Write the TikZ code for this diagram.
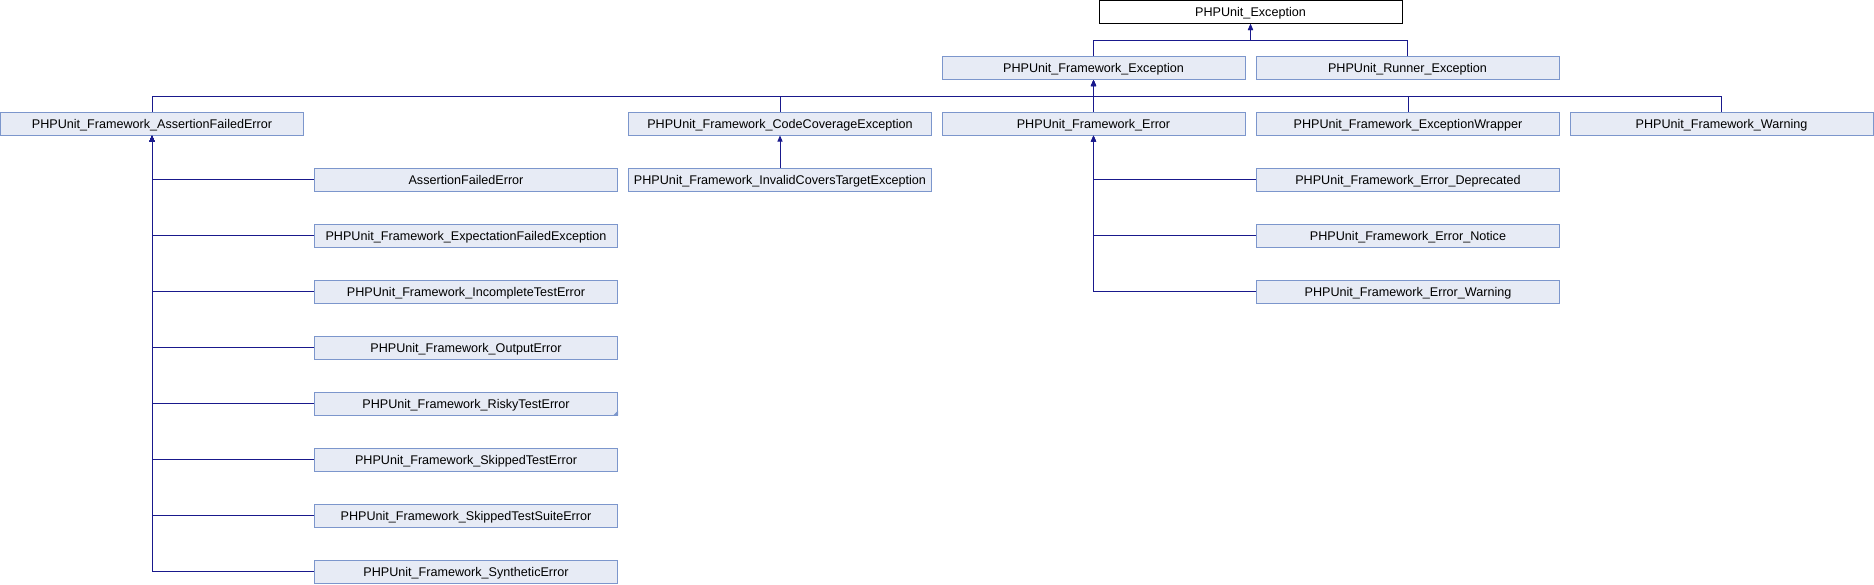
\documentclass[tikz,border=0pt]{standalone}
\usepackage{fontspec}
\setmainfont{Liberation Sans}
\usetikzlibrary{arrows.meta}
\definecolor{edgec}{RGB}{25,25,140}
\definecolor{boxfill}{RGB}{231,235,245}
\definecolor{boxdraw}{RGB}{124,150,204}
\tikzset{
  cls/.style={draw=boxdraw, fill=boxfill, line width=1pt, minimum width=303pt, minimum height=23pt, inner sep=0pt, text height=9pt, text depth=0pt, font=\fontsize{12.6}{14}\selectfont},
  rootcls/.style={cls, draw=black, fill=white},
  inh/.style={draw=edgec, line width=1pt, {Triangle[width=5pt,length=6pt]}-},
}
\begin{document}
\begin{tikzpicture}[x=1pt,y=-1pt]
\useasboundingbox (0,0) rectangle (1874,584);
% nodes
\node[rootcls] (root) at (1250.5,12) {PHPUnit\_Exception};
\node[cls] (fe) at (1093.5,68) {PHPUnit\_Framework\_Exception};
\node[cls] (runner) at (1407.5,68) {PHPUnit\_Runner\_Exception};
\node[cls] (afe) at (152,123.5) {PHPUnit\_Framework\_AssertionFailedError};
\node[cls] (cc) at (780,123.5) {PHPUnit\_Framework\_CodeCoverageException};
\node[cls] (ferr) at (1093.5,123.5) {PHPUnit\_Framework\_Error};
\node[cls] (wrap) at (1408,123.5) {PHPUnit\_Framework\_ExceptionWrapper};
\node[cls] (warn) at (1721.5,123.5) {PHPUnit\_Framework\_Warning};
\node[cls] (a1) at (466,179.5) {AssertionFailedError};
\node[cls] (a2) at (466,235.5) {PHPUnit\_Framework\_ExpectationFailedException};
\node[cls] (a3) at (466,291.5) {PHPUnit\_Framework\_IncompleteTestError};
\node[cls] (a4) at (466,347.5) {PHPUnit\_Framework\_OutputError};
\node[cls] (a5) at (466,403.5) {PHPUnit\_Framework\_RiskyTestError};
\node[cls] (a6) at (466,459.5) {PHPUnit\_Framework\_SkippedTestError};
\node[cls] (a7) at (466,515.5) {PHPUnit\_Framework\_SkippedTestSuiteError};
\node[cls] (a8) at (466,571.5) {PHPUnit\_Framework\_SyntheticError};
\node[cls] (icte) at (780,179.5) {PHPUnit\_Framework\_InvalidCoversTargetException};
\node[cls] (e1) at (1408,179.5) {PHPUnit\_Framework\_Error\_Deprecated};
\node[cls] (e2) at (1408,235.5) {PHPUnit\_Framework\_Error\_Notice};
\node[cls] (e3) at (1408,291.5) {PHPUnit\_Framework\_Error\_Warning};
% truncated marker
\fill[boxdraw] (a5.south east) -- ++(-5,0) -- ++(5,-5) -- cycle;
% bus coordinates
\coordinate (bus1) at (0,40);
\coordinate (bus2) at (0,96);
% edges root
\foreach \c in {fe,runner}
  \draw[inh] (root.south) -- (root.south |- bus1) -| (\c.north);
% edges framework exception
\foreach \c in {afe,cc,ferr,wrap,warn}
  \draw[inh] (fe.south) -- (fe.south |- bus2) -| (\c.north);
% assertion failed children
\foreach \c in {a1,a2,a3,a4,a5,a6,a7,a8}
  \draw[inh] (afe.south) |- (\c.west);
% error children
\foreach \c in {e1,e2,e3}
  \draw[inh] (ferr.south) |- (\c.west);
\draw[inh] (cc.south) -- (icte.north);
\end{tikzpicture}
\end{document}
